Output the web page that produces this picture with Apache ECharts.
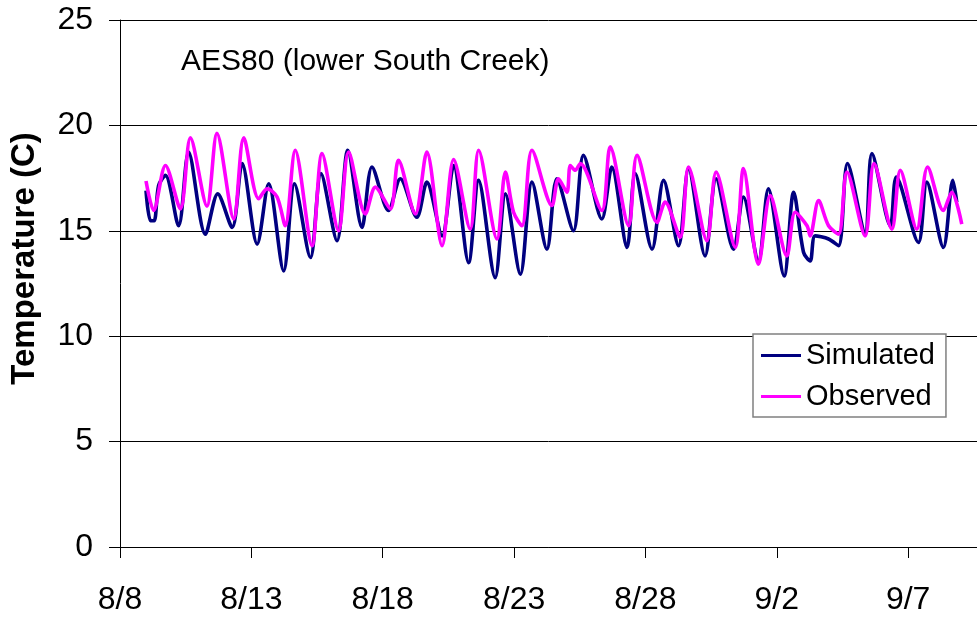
<!DOCTYPE html>
<html>
<head>
<meta charset="utf-8">
<script src="https://cdn.jsdelivr.net/npm/echarts@6/dist/echarts.min.js"></script>
<style>
html,body{margin:0;padding:0;background:#fff;}
#chart{width:977px;height:617px;}
</style>
</head>
<body>
<div id="chart"></div>
<script>
// Days elapsed since 8/8 00:00 and temperatures (C)
const obsDays = [0.99,1.28,1.73,2.30,2.68,3.31,3.69,4.33,4.71,5.28,5.60,5.98,6.29,6.67,7.31,7.69,8.32,8.70,9.34,9.72,10.29,10.60,11.24,11.68,12.26,12.70,13.33,13.65,14.35,14.67,14.98,15.30,15.68,16.44,16.69,17.01,17.14,17.33,17.52,18.34,18.66,19.36,19.68,20.44,20.75,21.32,21.64,22.34,22.69,23.42,23.73,24.30,24.75,25.38,25.70,26.15,26.27,26.59,26.97,27.35,27.67,28.36,28.70,29.38,29.70,30.33,30.74,31.34,31.66,32.04];
const obsTemps = [17.36,15.96,18.10,16.04,19.41,16.17,19.62,15.56,19.41,16.52,16.99,16.60,15.24,18.82,14.29,18.66,15.00,18.74,15.80,17.07,16.04,18.34,15.80,18.74,14.29,18.38,15.08,18.82,14.61,17.79,15.88,15.24,18.82,16.20,17.47,16.83,18.10,17.87,18.19,15.96,18.98,15.24,18.58,15.40,16.36,14.69,18.03,14.53,17.79,14.21,17.95,13.41,16.67,13.81,15.88,15.24,14.76,16.43,15.24,14.84,17.79,14.76,18.19,15.08,17.87,15.08,18.03,15.96,16.83,15.32];
const simDays = [0.99,1.16,1.30,1.47,1.73,2.23,2.61,3.25,3.72,4.27,4.65,5.22,5.66,6.23,6.64,7.25,7.65,8.26,8.67,9.21,9.59,10.22,10.67,11.30,11.68,12.26,12.70,13.27,13.65,14.28,14.67,15.24,15.68,16.25,16.63,17.26,17.64,18.34,18.72,19.30,19.61,20.25,20.69,21.26,21.64,22.27,22.69,23.35,23.73,24.30,24.68,25.28,25.64,26.02,26.27,26.46,26.97,27.35,27.69,28.36,28.62,29.32,29.55,30.39,30.71,31.34,31.70,31.85];
const simTemps = [16.91,15.48,15.48,17.15,17.63,15.24,18.74,14.84,16.75,15.16,18.19,14.37,17.23,13.09,17.23,13.73,17.71,14.53,18.82,15.16,18.03,15.96,17.47,15.64,17.31,14.76,18.10,13.49,17.39,12.78,16.75,12.94,17.31,14.13,17.47,15.00,18.58,15.56,18.03,14.21,17.71,14.13,17.39,14.29,17.95,13.81,17.47,14.13,16.60,13.57,16.99,12.86,16.83,13.97,13.57,14.76,14.61,14.29,18.19,14.92,18.66,15.24,17.55,14.45,17.31,14.21,17.39,16.36];
const xTickLabels = ['8/8','8/13','8/18','8/23','8/28','9/2','9/7'];
const seriesNames = ['Simulated','Observed'];
const titleText = 'AES80 (lower South Creek)';
const yAxisTitle = 'Temperature (C)';

const FONT = '"Liberation Sans", Arial, sans-serif';
const chart = echarts.init(document.getElementById('chart'), null, {renderer:'canvas'});
const pair = (d, v) => d.map((x, i) => [x, v[i]]);

chart.setOption({
  animation: false,
  backgroundColor: '#fff',
  title: {
    text: titleText, left: 176, top: 42, padding: 5,
    textStyle: {fontFamily: FONT, fontSize: 30, fontWeight: 'normal', color: '#000'}
  },
  legend: {
    orient: 'vertical', left: 753, top: 334,
    padding: [7, 11, 6, 8], itemGap: 12,
    itemWidth: 40, itemHeight: 3, icon: 'rect',
    backgroundColor: '#fff', borderColor: '#808080', borderWidth: 1.5,
    textStyle: {fontFamily: FONT, fontSize: 29, color: '#000'},
    data: seriesNames
  },
  grid: {left: 120, right: 0, top: 20, bottom: 70, containLabel: false, outerBoundsMode: 'none'},
  xAxis: {
    type: 'value', min: 0, max: 32.62, interval: 5,
    axisLine: {show: true, lineStyle: {color: '#000', width: 1}},
    axisTick: {show: true, inside: false, length: 11, lineStyle: {color: '#000'}},
    splitLine: {show: false},
    axisLabel: {
      margin: 37, fontFamily: FONT, fontSize: 32, color: '#000',
      showMaxLabel: false,
      formatter: v => xTickLabels[Math.round(v / 5)] || ''
    }
  },
  yAxis: {
    type: 'value', min: 0, max: 25, interval: 5,
    name: yAxisTitle, nameLocation: 'middle', nameGap: 79, nameRotate: 90,
    nameTextStyle: {fontFamily: FONT, fontSize: 33, fontWeight: 'bold', color: '#000', padding: [0, 0, 0, 50]},
    axisLine: {show: true, lineStyle: {color: '#000', width: 1}},
    axisTick: {show: true, inside: false, length: 11, lineStyle: {color: '#000'}},
    splitLine: {show: true, lineStyle: {color: '#000', width: 1}},
    axisLabel: {margin: 27, fontFamily: FONT, fontSize: 32, color: '#000'}
  },
  series: [
    {
      name: seriesNames[0], type: 'line', data: pair(simDays, simTemps),
      symbol: 'none', smooth: 0.3, color: '#000080',
      lineStyle: {color: '#000080', width: 3.6}, z: 2
    },
    {
      name: seriesNames[1], type: 'line', data: pair(obsDays, obsTemps),
      symbol: 'none', smooth: 0.3, color: '#FF00FF',
      lineStyle: {color: '#FF00FF', width: 3.6}, z: 3
    }
  ]
});
</script>
</body>
</html>
